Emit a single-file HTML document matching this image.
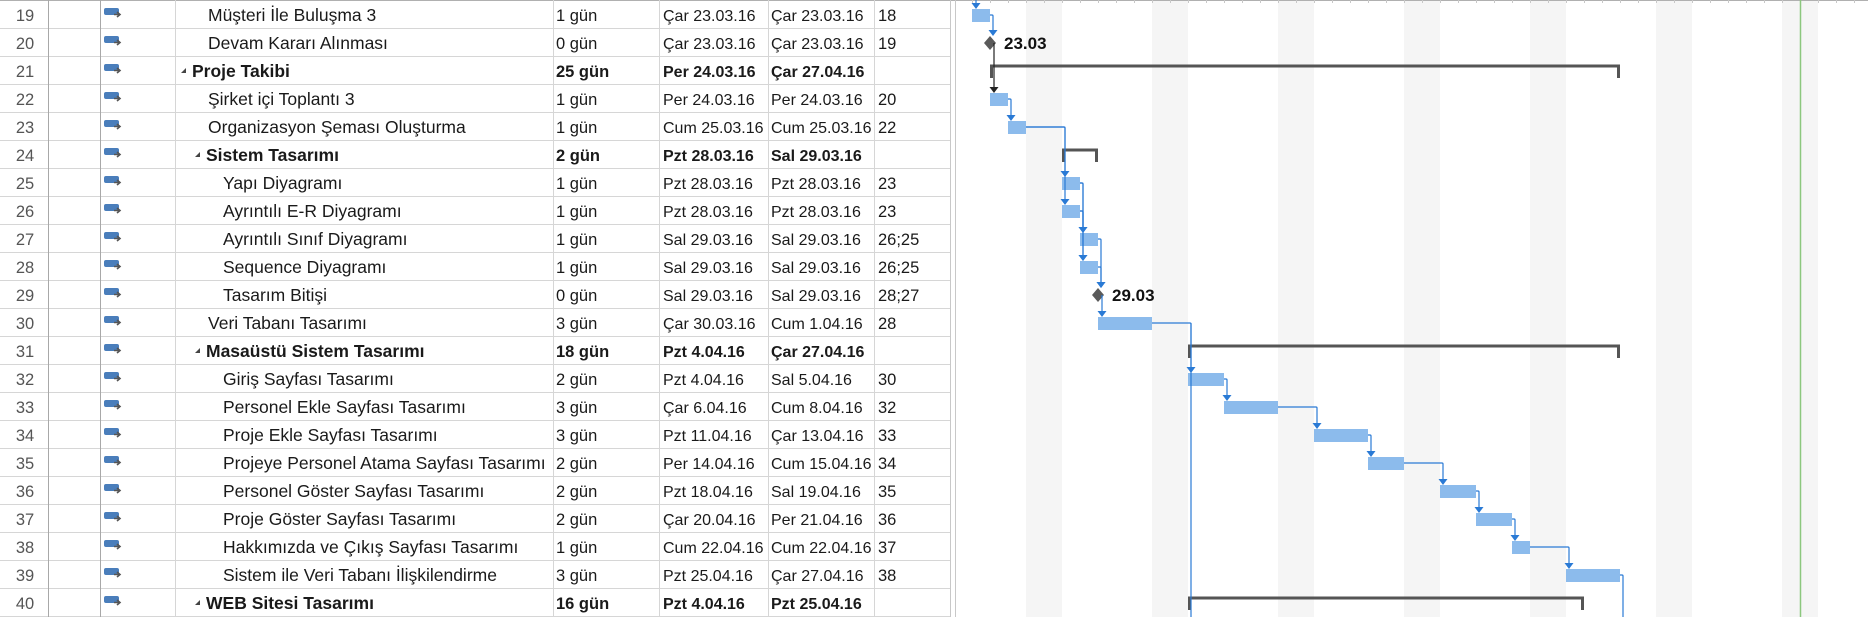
<!DOCTYPE html>
<html><head><meta charset="utf-8">
<style>
body{margin:0;width:1868px;height:617px;overflow:hidden;background:#fff;font-family:"Liberation Sans","DejaVu Sans",sans-serif;}
#root{position:relative;width:1868px;height:617px;}
svg{position:absolute;left:0;top:0;}
</style></head><body>
<div id="root">
<svg id="s" width="1868" height="617" xmlns="http://www.w3.org/2000/svg"></svg>
</div>
<script>
// ---- data ----
const ids = [19,20,21,22,23,24,25,26,27,28,29,30,31,32,33,34,35,36,37,38,39,40];
const names = ["Müşteri İle Buluşma 3","Devam Kararı Alınması","Proje Takibi","Şirket içi Toplantı 3","Organizasyon Şeması Oluşturma","Sistem Tasarımı","Yapı Diyagramı","Ayrıntılı E-R Diyagramı","Ayrıntılı Sınıf Diyagramı","Sequence Diyagramı","Tasarım Bitişi","Veri Tabanı Tasarımı","Masaüstü Sistem Tasarımı","Giriş Sayfası Tasarımı","Personel Ekle Sayfası Tasarımı","Proje Ekle Sayfası Tasarımı","Projeye Personel Atama Sayfası Tasarımı","Personel Göster Sayfası Tasarımı","Proje Göster Sayfası Tasarımı","Hakkımızda ve Çıkış Sayfası Tasarımı","Sistem ile Veri Tabanı İlişkilendirme","WEB Sitesi Tasarımı"];
const durations = ["1 gün","0 gün","25 gün","1 gün","1 gün","2 gün","1 gün","1 gün","1 gün","1 gün","0 gün","3 gün","18 gün","2 gün","3 gün","3 gün","2 gün","2 gün","2 gün","1 gün","3 gün","16 gün"];
const startLabels = ["Çar 23.03.16","Çar 23.03.16","Per 24.03.16","Per 24.03.16","Cum 25.03.16","Pzt 28.03.16","Pzt 28.03.16","Pzt 28.03.16","Sal 29.03.16","Sal 29.03.16","Sal 29.03.16","Çar 30.03.16","Pzt 4.04.16","Pzt 4.04.16","Çar 6.04.16","Pzt 11.04.16","Per 14.04.16","Pzt 18.04.16","Çar 20.04.16","Cum 22.04.16","Pzt 25.04.16","Pzt 4.04.16"];
const finishLabels = ["Çar 23.03.16","Çar 23.03.16","Çar 27.04.16","Per 24.03.16","Cum 25.03.16","Sal 29.03.16","Pzt 28.03.16","Pzt 28.03.16","Sal 29.03.16","Sal 29.03.16","Sal 29.03.16","Cum 1.04.16","Çar 27.04.16","Sal 5.04.16","Cum 8.04.16","Çar 13.04.16","Cum 15.04.16","Sal 19.04.16","Per 21.04.16","Cum 22.04.16","Çar 27.04.16","Pzt 25.04.16"];
const preds = ["18","19","","20","22","","23","23","26;25","26;25","28;27","28","","30","32","33","34","35","36","37","38",""];
// start/finish days counted from 1 March (April d => 31+d)
const startDays = [23,23,24,24,25,28,28,28,29,29,29,30,35,35,37,42,45,49,51,53,56,35];
const finishDays = [23,23,58,24,25,29,28,28,29,29,29,32,58,36,39,44,46,50,52,53,58,56];
const kinds = ["t","m","s","t","t","s","t","t","t","t","m","t","s","t","t","t","t","t","t","t","t","s"];
const levels = [1,1,1,1,1,2,3,3,3,3,3,1,2,3,3,3,3,3,3,3,3,2];
const milestoneLabels = ["","23.03","","","","","","","","","29.03","","","","","","","","","","",""];
const links = [[19,20],[20,22],[22,23],[23,25],[23,26],[25,27],[25,28],[26,27],[26,28],[27,29],[28,29],[29,30],[30,32],[32,33],[33,34],[34,35],[35,36],[36,37],[37,38],[38,39]];

// ---- layout ----
const NS="http://www.w3.org/2000/svg";
const svg=document.getElementById('s');
const ROW=28, TOP0=1, G0=957, DAY=18, ORIGIN=1026; // Sat 26 Mar
function xd(d){return ORIGIN+(d-26)*DAY;}
function rowTop(i){return TOP0+i*ROW;}
function mk(tag,attrs,parent){const e=document.createElementNS(NS,tag);for(const k in attrs)e.setAttribute(k,attrs[k]);(parent||svg).appendChild(e);return e;}

for(let d=26-7; d<80; d+=7){
  const x=xd(d); if(x+2*DAY<G0||x>1868) continue;
  const r=mk('rect',{x:Math.max(x,G0),y:0,width:Math.min(x+2*DAY,1868)-Math.max(x,G0),height:617,fill:'#f5f5f5'});
  
  
}
mk('line',{x1:0,y1:0.5,x2:1868,y2:0.5,stroke:'#b0b0b0','stroke-width':1});
for(let x=ORIGIN-9*DAY;x<1868;x+=DAY){ if(x>G0) mk('line',{x1:x+0.5,y1:0,x2:x+0.5,y2:3,stroke:'#c8c8c8'}); }
const now=mk('line',{x1:1800.5,y1:0,x2:1800.5,y2:617,stroke:'#8cc77e','stroke-width':1.5});



const colX=[0,48,100,175,553,659,768,874,950];
for(let i=0;i<ids.length;i++){
  const y=rowTop(i)+ROW-0.5;
  mk('line',{x1:0,y1:y,x2:950,y2:y,stroke:'#d6d6d6'});
}
colX.slice(1).forEach((x,k)=>{mk('line',{x1:x+0.5,y1:0,x2:x+0.5,y2:617,stroke:k<2?'#a8a8a8':'#d6d6d6'});});
mk('line',{x1:950.5,y1:0,x2:950.5,y2:617,stroke:'#c8c8c8'});
mk('line',{x1:955.5,y1:0,x2:955.5,y2:617,stroke:'#c8c8c8'});

function txt(x,y,s,bold,name,size,anchor,color){
  const t=mk('text',{x:x,y:y,'font-size':size||17,'font-weight':bold?'bold':'normal',fill:color||'#1a1a1a','text-anchor':anchor||'start'});
  t.textContent=s;
  
  
  return t;
}

for(let i=0;i<ids.length;i++){
  const top=rowTop(i), by=top+20;
  const bold=kinds[i]==='s';
  const row=mk('g',{});
  
  
  txt(25,by,String(ids[i]),false,'task-id',16.5,'middle','#555');
  const ic=mk('g',{},row);
  
  
  mk('rect',{x:104,y:top+7,width:15,height:7,rx:2,fill:'#4a7ebb'},ic);
  mk('path',{d:`M114 ${top+13.5} h5 M117 ${top+11} l3 2.5 -3 2.5`,stroke:'#555','stroke-width':1.6,fill:'none'},ic);
  let nx;
  if(bold){
    const tx=levels[i]===1?180:194;
    mk('path',{d:`M${tx+6} ${top+11} L${tx+6} ${top+16} L${tx+1} ${top+16} Z`,fill:'#444'},row);
    nx=tx+12;
  } else nx=levels[i]===3?223:208;
  txt(nx,by,names[i],bold,'task-name',17.5);
  txt(556,by,durations[i],bold,'task-duration',16.5);
  txt(663,by,startLabels[i],bold,'task-start',16);
  txt(771,by,finishLabels[i],bold,'task-finish',16);
  txt(878,by,preds[i],false,'task-predecessors',16.5);
}

const geom={};
for(let i=0;i<ids.length;i++){
  const top=rowTop(i), x0=xd(startDays[i]), x1=xd(finishDays[i]+1), cy=top+14;
  if(kinds[i]==='t'){
    const r=mk('rect',{x:x0,y:top+8,width:x1-x0,height:13,fill:'#8cbbec'});
    
    
    geom[ids[i]]={xs:x0,xe:x1,cy:cy,top:top+8,ms:false};
  } else if(kinds[i]==='m'){
    const mx=x1;
    const d=mk('path',{d:`M${mx} ${cy-7} L${mx+6} ${cy} L${mx} ${cy+7} L${mx-6} ${cy} Z`,fill:'#5a5a5a'});
    
    
    txt(mx+14,cy+6,milestoneLabels[i],true,'milestone-label',17,'start','#111');
    geom[ids[i]]={xs:mx,xe:mx,cy:cy,top:cy-7,ms:true};
  } else {
    const g=mk('path',{d:`M${x0+1.5} ${top+21} V${top+9} H${x1-1.5} V${top+21}`,stroke:'#555','stroke-width':3,fill:'none'});
    
    
  }
}
links.forEach(([a,b])=>{
  const p=geom[a], q=geom[b];
  const col=(p.ms&&!q.ms&&a===20)?'#222':'#2a7ad5';
  let vx, d;
  if(p.ms){ vx=p.xs+4; d=`M${vx} ${p.cy} V${q.top-5}`; }
  else { vx=Math.max(p.xe+3,q.xs+3); d=`M${p.xe} ${p.cy} H${vx-1} Q${vx} ${p.cy} ${vx} ${p.cy+1} V${q.top-5}`; }
  const l=mk('path',{d:d,stroke:col,'stroke-width':1.2,fill:'none'});
  
  
  mk('path',{d:`M${vx-4.5} ${q.top-6} L${vx+4.5} ${q.top-6} L${vx} ${q.top} Z`,fill:col});
});
mk('path',{d:`M${xd(23)+4} 0 V3`,stroke:'#2a7ad5','stroke-width':1.2});
mk('path',{d:`M${xd(23)-0.5} 3 L${xd(23)+8.5} 3 L${xd(23)+4} 9 Z`,fill:'#2a7ad5'});
mk('path',{d:`M${xd(35)+3} ${geom[30].cy} V617`,stroke:'#2a7ad5','stroke-width':1.2,fill:'none'});
mk('path',{d:`M${geom[39].xe} ${geom[39].cy} H${geom[39].xe+2} Q${geom[39].xe+3} ${geom[39].cy} ${geom[39].xe+3} ${geom[39].cy+1} V617`,stroke:'#2a7ad5','stroke-width':1.2,fill:'none'});
</script>
</body></html>
